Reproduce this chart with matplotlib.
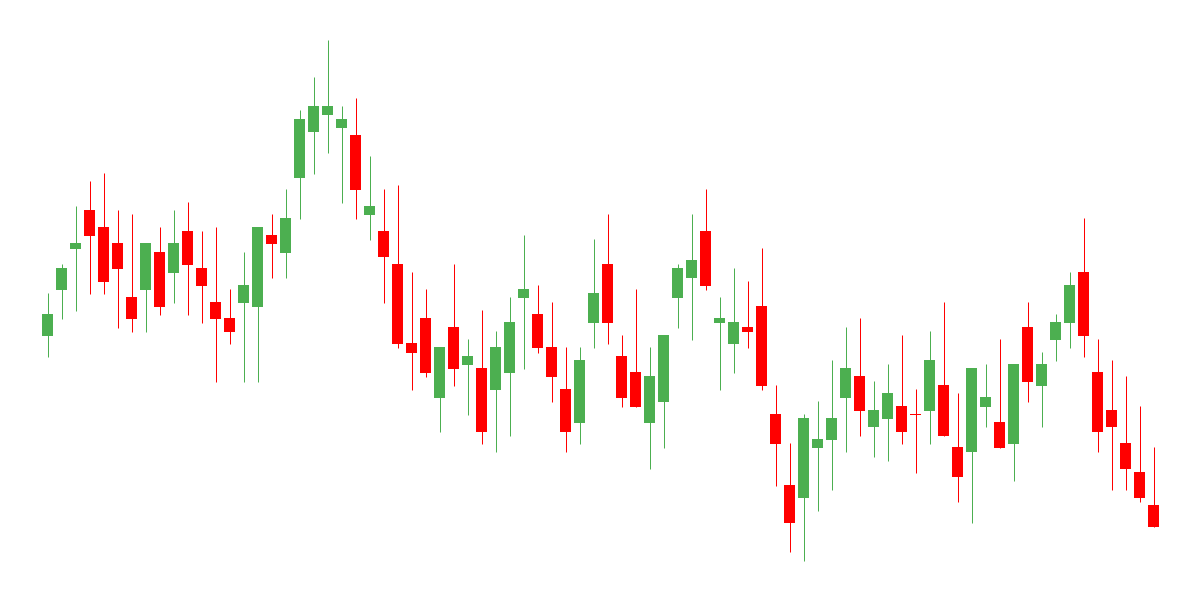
import numpy as np
import matplotlib
matplotlib.use("Agg")
import matplotlib.pyplot as plt

# OHLC values (arbitrary price units)
opens = [264.3, 310.3, 351.3, 390, 373, 357, 303, 310.3, 348, 327.3,
         369, 332, 298, 282, 297.3, 293.3, 365, 347.3, 422.3, 468.3,
         485.3, 472.3, 465, 385.3, 369, 336, 257, 282, 202.3, 273,
         235.3, 232, 210.3, 227.3, 302.3, 286, 253, 211, 177.3, 277.3,
         336, 244, 228, 177.3, 198.3, 302.3, 322.3, 369, 277.3, 256.3,
         273, 294, 186, 115, 102.3, 152.3, 160.3, 202.3, 224, 173.3,
         181.3, 194, 186, 189.3, 215, 153, 148.3, 193.3, 178, 156.3,
         273, 214.3, 260.3, 277.3, 328, 228, 190, 157, 128, 95]
highs = [307, 336, 394, 419, 427, 390, 386, 357, 373, 390,
         398, 369, 373, 311, 348, 373, 386, 411, 490, 523,
         560, 494, 502, 444, 411, 415, 328, 311, 253, 336,
         261, 290, 269, 303, 365, 315, 298, 253, 253, 361,
         386, 265, 311, 253, 265, 336, 386, 411, 303, 332,
         319, 352, 215, 157, 186, 199, 240, 273, 282, 219,
         236, 265, 211, 269, 298, 207, 232, 236, 261, 236,
         298, 248, 286, 328, 382, 261, 240, 224, 194, 153]
lows = [243.3, 281.3, 289.3, 306.3, 306.3, 272.3, 268.3, 268.3, 285.3, 297.3,
        285.3, 277.3, 218.3, 256.3, 218.3, 218.3, 322.3, 322.3, 381.3, 426.3,
        447.3, 397.3, 381.3, 360.3, 297.3, 252.3, 210.3, 223.3, 168.3, 214.3,
        185.3, 156.3, 148.3, 164.3, 231.3, 247.3, 198.3, 148.3, 156.3, 252.3,
        256.3, 193.3, 193.3, 131.3, 152.3, 272.3, 260.3, 310.3, 210.3, 227.3,
        252.3, 210.3, 114, 48.3, 39.3, 89.3, 110.3, 148.3, 164.3, 143.3,
        139.3, 156.3, 127.3, 156.3, 164.3, 98.3, 77.3, 173.3, 152.3, 119.3,
        198.3, 173.3, 239.3, 252.3, 243.3, 148.3, 110.3, 110.3, 98.3, 73.3]
closes = [286, 332, 357, 364.3, 318.3, 331.3, 281.3, 357, 293.3, 357,
          335.3, 314.3, 281.3, 268.3, 315, 373, 356.3, 382, 481, 494,
          494, 481, 410.3, 394, 343.3, 256.3, 247.3, 227.3, 253, 231.3,
          244, 168.3, 253, 278, 311, 252.3, 223.3, 168.3, 240, 307,
          277.3, 202.3, 193.3, 224, 265, 332, 340, 314.3, 282, 278,
          268.3, 214.3, 156.3, 77.3, 182, 161, 182, 232, 189.3, 190,
          207, 168.3, 185.3, 240, 164.3, 123.3, 232, 203, 152.3, 236,
          218.3, 236, 278, 315, 264.3, 168.3, 173.3, 131.3, 102.3, 73.3]

o = np.array(opens)
h = np.array(highs)
l = np.array(lows)
c = np.array(closes)
idx = np.arange(len(o))

up_color = '#4CAF50'
down_color = '#FF0000'
colors = np.where(c >= o, up_color, down_color)

fig = plt.figure(figsize=(12, 6), dpi=100)
ax = fig.add_axes([0, 0, 1, 1])

# wicks
ax.vlines(idx, l, h, colors=colors, linewidth=0.72, zorder=1)

# bodies
body_bottom = np.minimum(o, c)
body_height = np.maximum(np.abs(c - o), 0.8)
ax.bar(idx, body_height, bottom=body_bottom, width=0.79,
       color=colors, linewidth=0, zorder=2)

ax.set_xlim(-47.5 / 14, (1200 - 47.5) / 14)
ax.set_ylim(0, 600)
ax.axis('off')

fig.savefig('out.png', dpi=100, facecolor='white')
